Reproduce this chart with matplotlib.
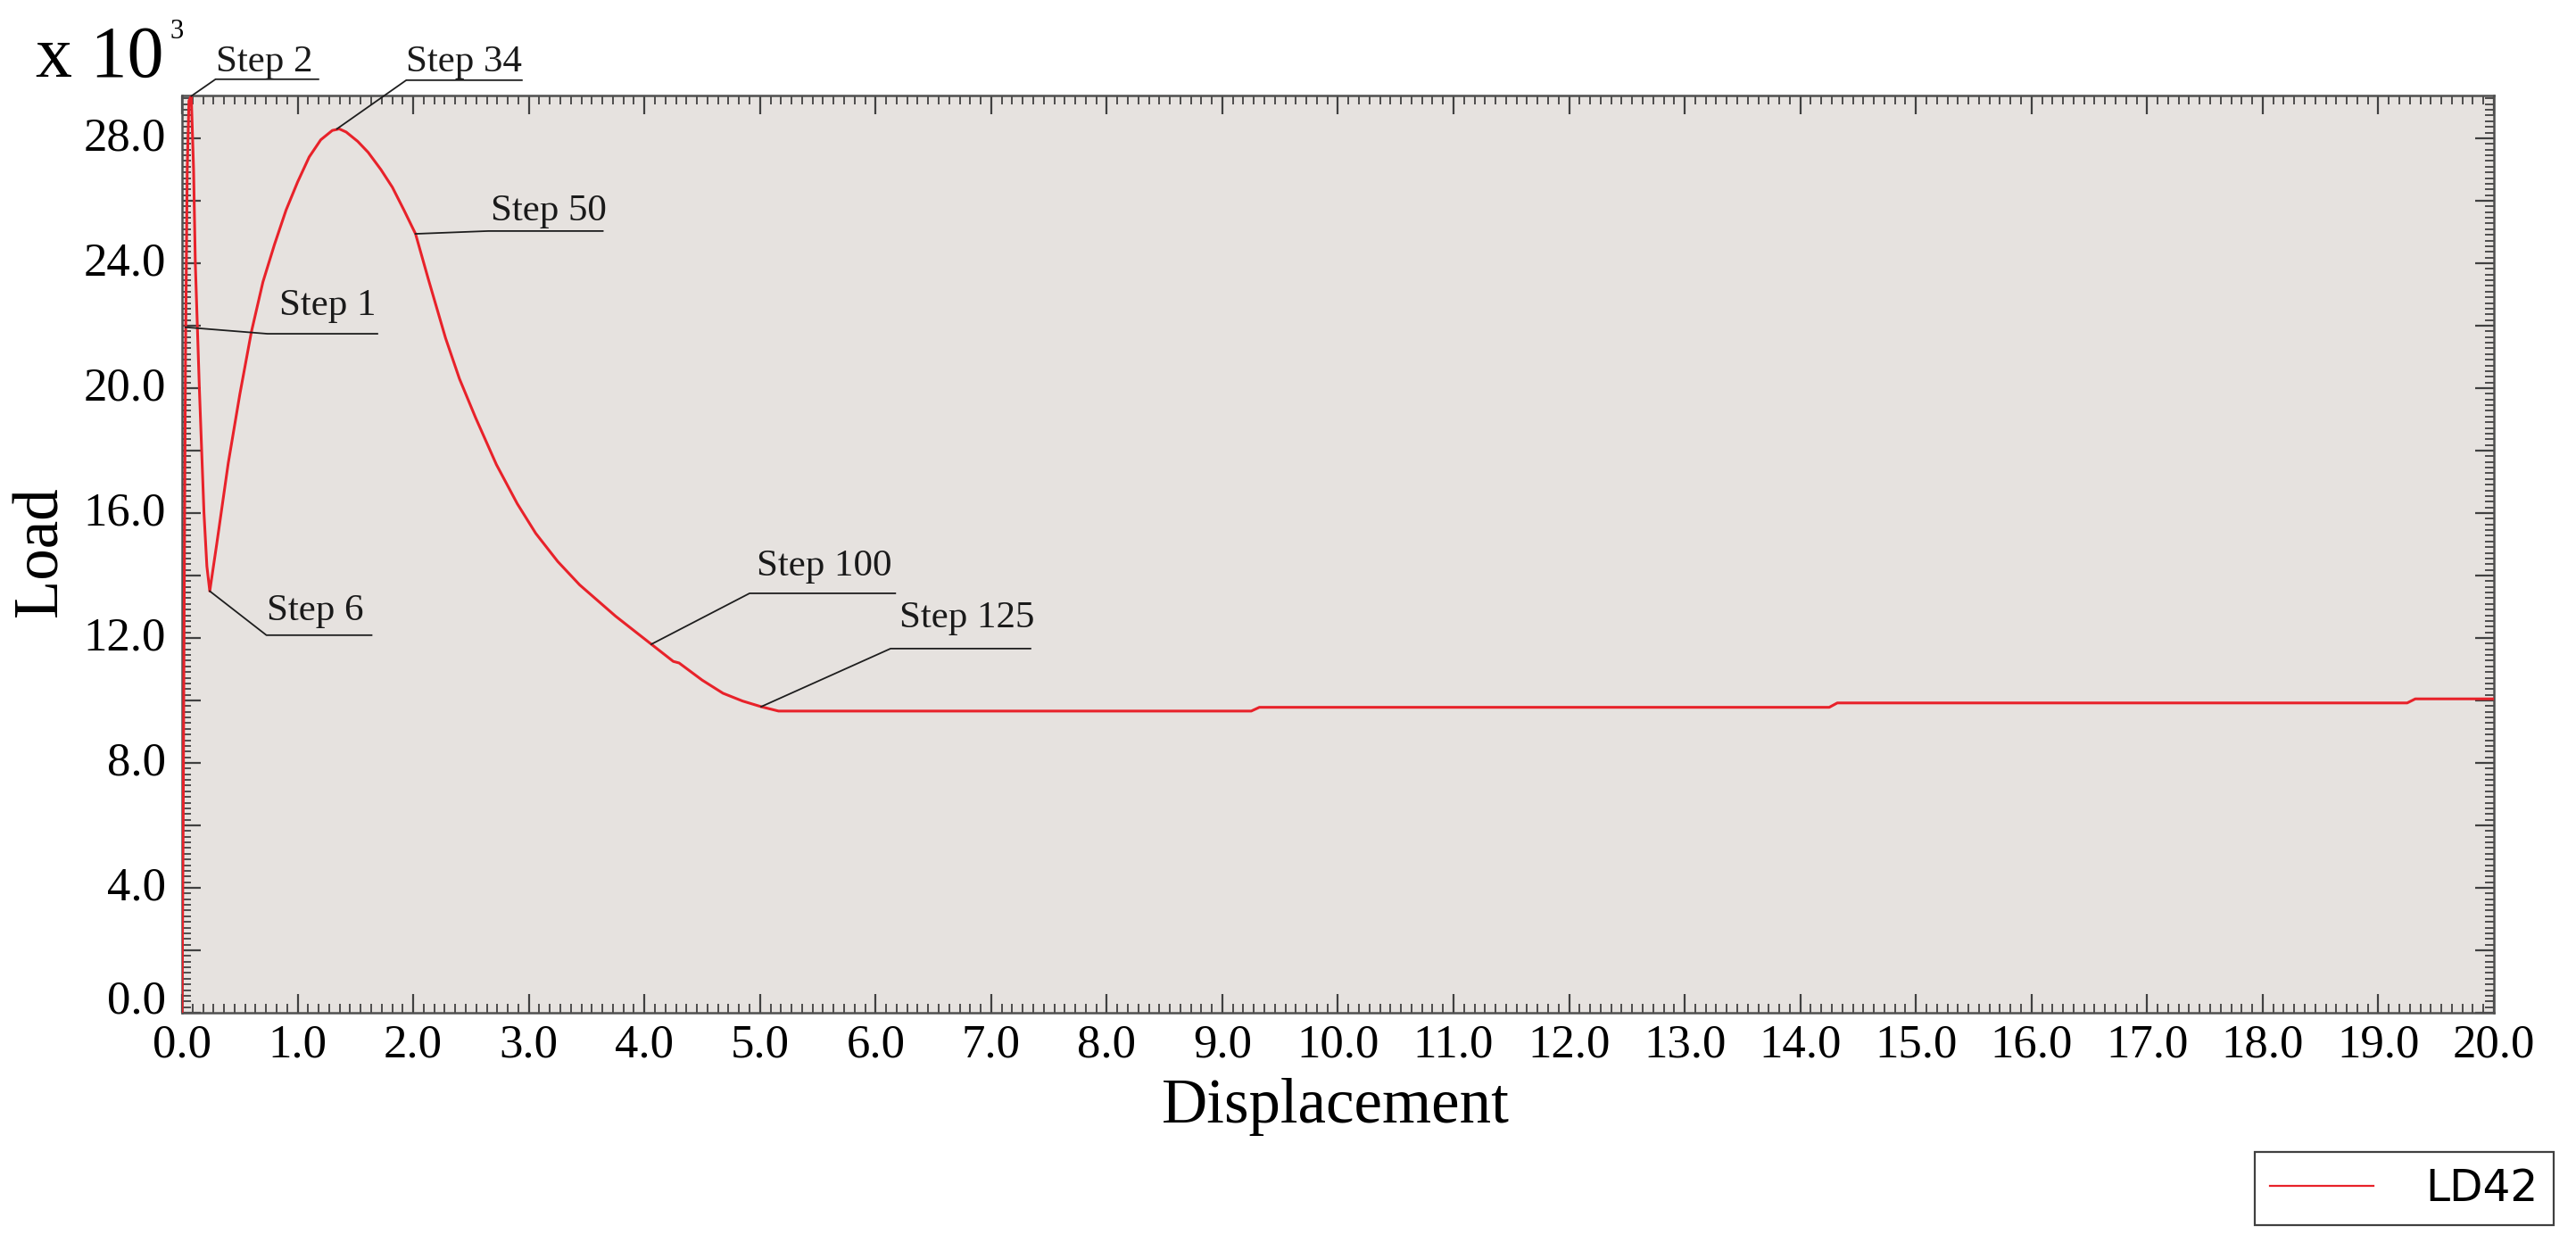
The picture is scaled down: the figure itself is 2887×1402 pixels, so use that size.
import matplotlib
matplotlib.use("Agg")
import matplotlib.pyplot as plt
import matplotlib.transforms as mtransforms
from matplotlib.ticker import MultipleLocator, AutoMinorLocator, FuncFormatter

# Load-displacement curve (load in x 10^3)
disp = [0.0, 0.01, 0.02, 0.03, 0.045, 0.06, 0.08,
        0.10, 0.115, 0.15, 0.19, 0.215, 0.24,
        0.30, 0.40, 0.50, 0.60, 0.70, 0.80, 0.90, 1.00, 1.10, 1.20, 1.30, 1.36,
        1.42, 1.52, 1.61, 1.72, 1.82, 1.92, 2.02,
        2.13, 2.28, 2.40, 2.54, 2.72, 2.90, 3.06, 3.25, 3.44, 3.75, 4.06, 4.25, 4.30,
        4.50, 4.68, 4.85, 5.01, 5.16,
        9.25, 9.32, 14.25, 14.32, 19.25, 19.32, 20.0]
load = [0.0, 6.0, 14.0, 21.0, 27.0, 29.2, 29.35,
        27.0, 24.0, 20.0, 16.0, 14.3, 13.5,
        15.0, 17.6, 19.8, 21.8, 23.4, 24.6, 25.7, 26.6, 27.4, 27.95, 28.25, 28.3,
        28.2, 27.9, 27.55, 27.0, 26.43, 25.7, 24.94,
        23.5, 21.6, 20.3, 19.05, 17.55, 16.3, 15.35, 14.45, 13.7, 12.7, 11.8, 11.25, 11.2,
        10.65, 10.23, 9.98, 9.8, 9.66,
        9.66, 9.78, 9.78, 9.92, 9.92, 10.05, 10.05]

# labelled steps and the curve points they mark
step_names = ["Step 1", "Step 2", "Step 6", "Step 34", "Step 50", "Step 100", "Step 125"]
step_x = [0.03, 0.08, 0.24, 1.34, 2.02, 4.06, 5.01]
step_y = [21.95, 29.35, 13.5, 28.3, 24.94, 11.8, 9.8]

# leader layout: elbow x, elbow y, end x, text x, text y
leader = [(0.74, 21.74, 1.69, 0.84, 22.34),
          (0.29, 29.89, 1.18, 0.29, 30.14),
          (0.73, 12.09, 1.64, 0.73, 12.57),
          (1.94, 29.86, 2.94, 1.94, 30.14),
          (2.65, 25.03, 3.64, 2.67, 25.37),
          (4.91, 13.43, 6.17, 4.97, 14.00),
          (6.13, 11.66, 7.34, 6.21, 12.34)]

serif = "Liberation Serif"
plt.rcParams['font.family'] = serif

fig = plt.figure(figsize=(28.87, 14.02), dpi=100)
ax = fig.add_axes([0.07066, 0.19044, 0.89747, 0.73324])
ax.set_facecolor("#e6e2df")

ax.plot(disp, load, color="#e8222a", lw=2.2, label="LD42", zorder=3)

for name, px, py, (ex, ey, endx, tx, ty) in zip(step_names, step_x, step_y, leader):
    ax.plot([px, ex, endx], [py, ey, ey], color="#1e1e1e", lw=1.3,
            clip_on=False, zorder=4)
    ax.text(tx, ty, name, fontsize=31, va="baseline", ha="left",
            color="#1a1a1a", clip_on=False)

ax.set_xlim(0, 20)
ax.set_ylim(0, 29.37)

ax.xaxis.set_major_locator(MultipleLocator(1.0))
ax.xaxis.set_minor_locator(AutoMinorLocator(11))
ax.yaxis.set_major_locator(MultipleLocator(2.0))
ax.yaxis.set_minor_locator(AutoMinorLocator(11))
ax.xaxis.set_major_formatter(FuncFormatter(lambda v, p: "%.1f" % v))
ax.yaxis.set_major_formatter(
    FuncFormatter(lambda v, p: "%.1f" % v if round(v) % 4 == 0 else ""))

ax.tick_params(which="both", direction="in", top=True, right=True,
               color="#404040", labelsize=38)
ax.tick_params(which="major", length=15, width=1.6)
ax.tick_params(which="minor", length=7, width=1.3)
ax.tick_params(axis="x", pad=9)
ax.tick_params(axis="y", pad=13)

for s in ax.spines.values():
    s.set_color("#505050")
    s.set_linewidth(1.8)

# y labels sit slightly above their ticks, the 0.0 one more so
for lab, v in zip(ax.get_yticklabels(), ax.get_yticks()):
    up = 18 if v == 0 else 5
    lab.set_transform(lab.get_transform() +
                      mtransforms.ScaledTranslation(0, up / 100, fig.dpi_scale_trans))

fig.text(1497 / 2887, 1 - 1258 / 1402, "Displacement", fontsize=51,
         ha="center", va="baseline")
fig.text(46 / 2887, 1 - 618 / 1402, "Load", fontsize=51, rotation=90,
         ha="center", va="center")
fig.text(40 / 2887, 1 - 86 / 1402, "x 10", fontsize=59, va="baseline")
fig.text(190 / 2887, 1 - 43 / 1402, "3", fontsize=22, va="baseline")

leg = ax.legend(loc="lower right", bbox_to_anchor=(2862 / 2887, 1 - 1373 / 1402),
                bbox_transform=fig.transFigure, borderaxespad=0,
                prop={"family": "DejaVu Sans", "size": 35},
                handlelength=2.4, handletextpad=1.2, borderpad=0.35,
                fancybox=False, framealpha=1, edgecolor="#404040")
leg.get_frame().set_linewidth(1.6)
leg.legend_handles[0].set_linewidth(1.6)

fig.savefig("out.png", dpi=100, facecolor="white")
